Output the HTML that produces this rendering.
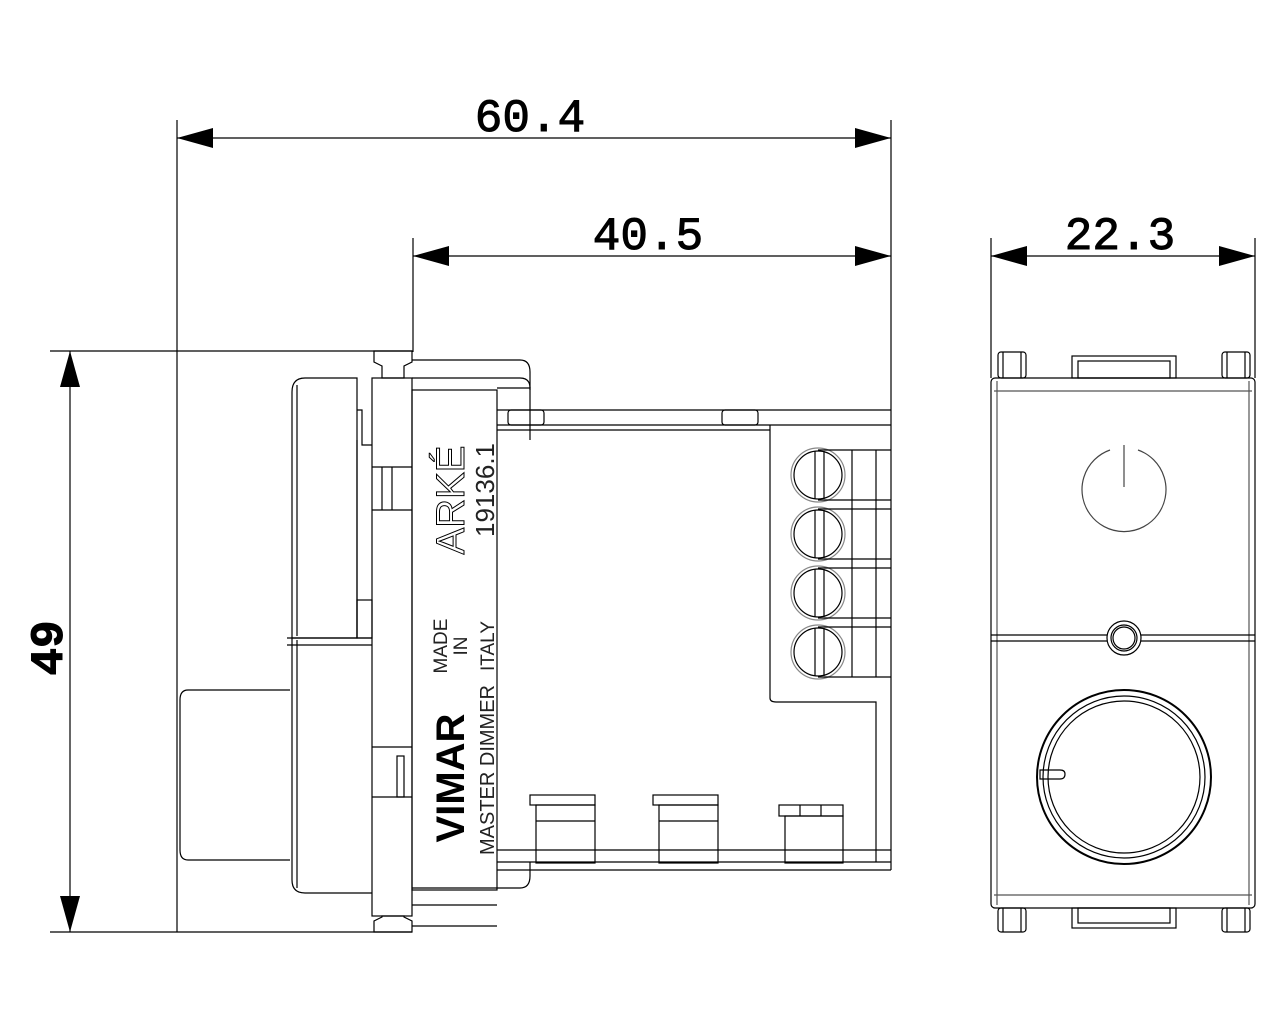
<!DOCTYPE html>
<html><head><meta charset="utf-8"><style>
html,body{margin:0;padding:0;background:#fff;}
svg{display:block;}
</style></head><body>
<svg width="1280" height="1024" viewBox="0 0 1280 1024" xmlns="http://www.w3.org/2000/svg">
<g stroke="#000" stroke-width="1.2" fill="none">
<line x1="177" y1="120" x2="177" y2="932"/>
<line x1="891" y1="120" x2="891" y2="410"/>
<line x1="177" y1="138" x2="891" y2="138"/>
<line x1="413" y1="238" x2="413" y2="352"/>
<line x1="413" y1="256" x2="891" y2="256"/>
<line x1="991" y1="238" x2="991" y2="378"/>
<line x1="1255" y1="238" x2="1255" y2="378"/>
<line x1="991" y1="256" x2="1255" y2="256"/>
<line x1="50" y1="351" x2="412" y2="351"/>
<line x1="50" y1="932" x2="412" y2="932"/>
<line x1="70" y1="351" x2="70" y2="932"/>
</g>
<g fill="#000">
<polygon points="177,138 213,128 213,148"/>
<polygon points="891,138 855,128 855,148"/>
<polygon points="413,256 449,246 449,266"/>
<polygon points="891,256 855,246 855,266"/>
<polygon points="991,256 1027,246 1027,266"/>
<polygon points="1255,256 1219,246 1219,266"/>
<polygon points="70,351 60,387 80,387"/>
<polygon points="70,932 60,896 80,896"/>
</g>
<g font-size="46" fill="#000" text-anchor="middle" font-family="Liberation Mono, DejaVu Sans Mono, monospace" stroke="#000" stroke-width="1">
<text x="530" y="131">60.4</text>
<text x="648" y="249">40.5</text>
<text x="1120" y="249">22.3</text>
<text transform="translate(62,648) rotate(-90)" font-weight="bold">49</text>
</g>

<g stroke="#000" stroke-width="1.2" fill="none">
<path d="M290,690 L188,690 Q180,690 180,700 L180,850 Q180,860 188,860 L290,860"/>
<path d="M357,378 L305,378 Q292,378 292,392 L292,638 L357,638 Z"/>
<line x1="297" y1="385" x2="297" y2="636"/>
<path d="M357,410 L362,410 L362,445 L372,445"/>
<line x1="357" y1="440" x2="357" y2="638"/>
<rect x="357" y="600" width="15" height="38"/>
<path d="M292,638 L292,880 Q292,893 305,893 L372,893"/>
<line x1="297" y1="640" x2="297" y2="888"/>
<line x1="287" y1="638" x2="372" y2="638"/>
<line x1="287" y1="645" x2="372" y2="645"/>
<rect x="372" y="378" width="40" height="538"/>
<line x1="372" y1="467" x2="412" y2="467"/>
<line x1="372" y1="510" x2="412" y2="510"/>
<line x1="382" y1="467" x2="382" y2="510"/>
<line x1="392" y1="467" x2="392" y2="510"/>
<line x1="372" y1="747" x2="412" y2="747"/>
<line x1="372" y1="797" x2="412" y2="797"/>
<rect x="397" y="756" width="7" height="41"/>
<path d="M374,351 L412,351 L412,362 L404,366 L404,378 L382,378 L382,366 L374,362 Z"/>
<path d="M374,932 L412,932 L412,921 L404,917 L404,916 L382,916 L382,917 L374,921 Z"/>
<rect x="412" y="390" width="85" height="500"/>
<path d="M412,360 L520,360 Q530,360 530,372 L530,390"/>
<path d="M412,378 L520,378 Q530,378 530,388"/>
<path d="M412,888 L520,888 Q530,888 530,876 L530,862"/>
<path d="M412,905 L497,905"/>
<line x1="412" y1="926" x2="497" y2="926"/>
<path d="M497,388 L530,388 L530,440"/>
<line x1="497" y1="410" x2="891" y2="410"/>
<line x1="497" y1="425" x2="770" y2="425"/>
<line x1="497" y1="430" x2="770" y2="430"/>
<rect x="508" y="410" width="36" height="15" rx="3"/>
<rect x="722" y="410" width="36" height="15" rx="3"/>
<line x1="770" y1="425" x2="891" y2="425"/>
<path d="M770,425 L770,698 Q770,702 776,702 L876,702 L876,862"/>
<line x1="497" y1="862" x2="891" y2="862"/>
<line x1="497" y1="870" x2="891" y2="870"/>
<line x1="497" y1="850" x2="891" y2="850"/>
<line x1="891" y1="410" x2="891" y2="870"/>
<g>
<circle cx="818" cy="475" r="24"/><circle cx="818" cy="475" r="27" stroke="#888"/>
<line x1="815" y1="451" x2="815" y2="499"/><line x1="824" y1="451" x2="824" y2="499"/>
<circle cx="818" cy="534" r="24"/><circle cx="818" cy="534" r="27" stroke="#888"/>
<line x1="815" y1="510" x2="815" y2="558"/><line x1="824" y1="510" x2="824" y2="558"/>
<circle cx="818" cy="593" r="24"/><circle cx="818" cy="593" r="27" stroke="#888"/>
<line x1="815" y1="569" x2="815" y2="617"/><line x1="824" y1="569" x2="824" y2="617"/>
<circle cx="818" cy="652" r="24"/><circle cx="818" cy="652" r="27" stroke="#888"/>
<line x1="815" y1="628" x2="815" y2="676"/><line x1="824" y1="628" x2="824" y2="676"/>
<line x1="818" y1="450" x2="891" y2="450"/>
<line x1="818" y1="500" x2="891" y2="500"/>
<line x1="818" y1="509" x2="891" y2="509"/>
<line x1="818" y1="559" x2="891" y2="559"/>
<line x1="818" y1="568" x2="891" y2="568"/>
<line x1="818" y1="618" x2="891" y2="618"/>
<line x1="818" y1="627" x2="891" y2="627"/>
<line x1="818" y1="677" x2="891" y2="677"/>
<line x1="852" y1="450" x2="852" y2="677"/>
<line x1="876" y1="450" x2="876" y2="677"/>
</g>
<rect x="530" y="795" width="65" height="10"/><rect x="536" y="805" width="59" height="58"/>
<line x1="536" y1="821" x2="595" y2="821"/>
<rect x="653" y="795" width="65" height="10"/><rect x="659" y="805" width="59" height="58"/>
<line x1="659" y1="821" x2="718" y2="821"/>
<rect x="779" y="805" width="64" height="11"/><rect x="785" y="816" width="58" height="47"/>
<line x1="800" y1="805" x2="800" y2="816"/><line x1="821" y1="805" x2="821" y2="816"/>
</g>
<g fill="#000" font-family="Liberation Sans, sans-serif" text-anchor="middle">
<text transform="translate(464,778) rotate(-90)" font-size="40" font-weight="bold">VIMAR</text>
<text transform="translate(494,770) rotate(-90)" font-size="20" fill="#222">MASTER DIMMER</text>
<text transform="translate(447,646) rotate(-90)" font-size="19" fill="#222">MADE</text>
<text transform="translate(467,646) rotate(-90)" font-size="19" fill="#222">IN</text>
<text transform="translate(494,646) rotate(-90)" font-size="19" fill="#222">ITALY</text>
<text transform="translate(464,500) rotate(-90)" font-size="40" fill="none" stroke="#000" stroke-width="1">ARKÉ</text>
<text transform="translate(494,490) rotate(-90)" font-size="26" fill="#222">19136.1</text>
</g>

<g stroke="#000" stroke-width="1.2" fill="none">
<rect x="991" y="378" width="264" height="530" rx="4"/>
<line x1="994" y1="391" x2="1252" y2="391" stroke="#555"/>
<line x1="994" y1="895" x2="1252" y2="895" stroke="#555"/>
<line x1="997" y1="381" x2="997" y2="905" stroke="#555"/>
<line x1="1249" y1="381" x2="1249" y2="905" stroke="#555"/>
<line x1="991" y1="635" x2="1255" y2="635"/>
<line x1="991" y1="641" x2="1255" y2="641"/>
<rect x="998" y="352" width="28" height="26" rx="3"/><line x1="1003" y1="352" x2="1003" y2="378"/><line x1="1021" y1="352" x2="1021" y2="378"/>
<rect x="1222" y="352" width="28" height="26" rx="3"/><line x1="1227" y1="352" x2="1227" y2="378"/><line x1="1245" y1="352" x2="1245" y2="378"/>
<rect x="1072" y="356" width="104" height="22"/><rect x="1078" y="361" width="92" height="17"/>
<rect x="998" y="908" width="28" height="24" rx="3"/><line x1="1003" y1="908" x2="1003" y2="932"/><line x1="1021" y1="908" x2="1021" y2="932"/>
<rect x="1222" y="908" width="28" height="24" rx="3"/><line x1="1227" y1="908" x2="1227" y2="932"/><line x1="1245" y1="908" x2="1245" y2="932"/>
<rect x="1072" y="908" width="104" height="20"/><rect x="1078" y="908" width="92" height="15"/>
<path d="M1110,450 A42,42 0 1 0 1138,450" stroke="#444"/>
<line x1="1124" y1="445" x2="1124" y2="487" stroke="#444"/>
<circle cx="1124" cy="638" r="17" fill="#fff"/>
<circle cx="1124" cy="638" r="13"/>
<circle cx="1124" cy="638" r="11"/>
<circle cx="1124" cy="777" r="87" stroke-width="2"/>
<circle cx="1124" cy="777" r="81"/>
<circle cx="1124" cy="777" r="76"/>
<path d="M1040,770 L1060,770 Q1065,770 1065,774 Q1065,779 1060,779 L1040,779 Z"/>
</g>
</svg>
</body></html>
